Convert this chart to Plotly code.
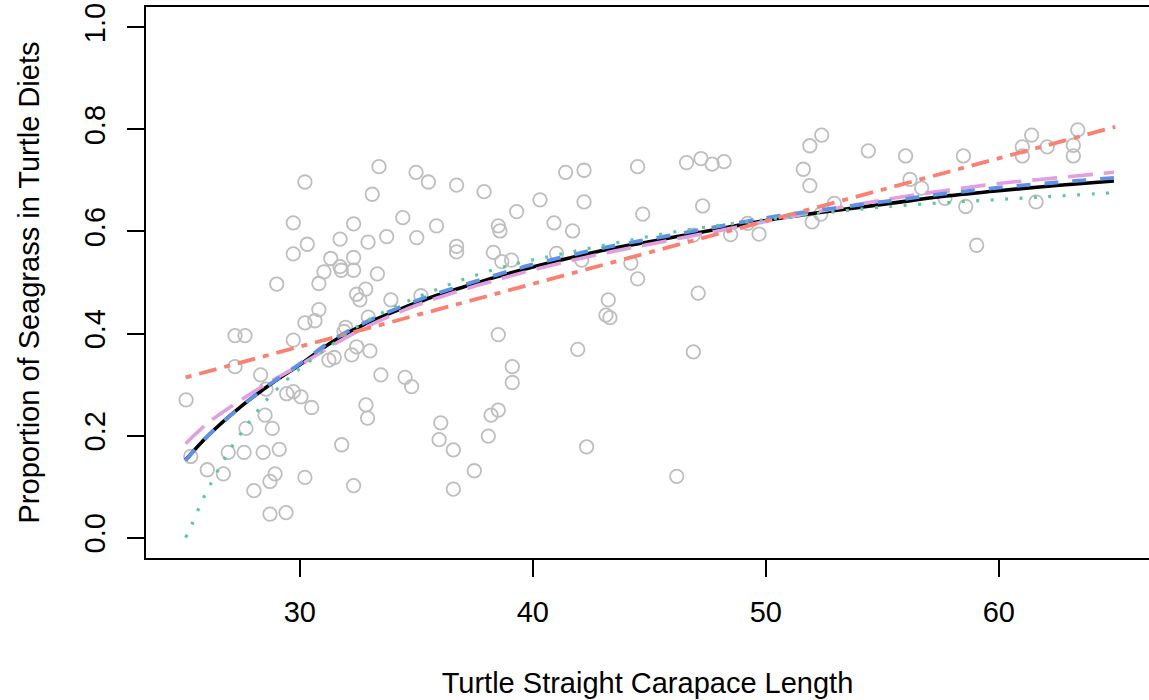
import plotly.graph_objects as go

# ---- data ----
scl = [30.22, 33.40, 34.99, 35.52, 33.11, 29.72, 32.31, 34.42, 35.87, 30.32, 29.72, 31.73,
       32.93, 33.73, 35.02, 31.33, 31.73, 31.78, 32.31, 32.31, 31.04, 33.33,
       29.01, 30.82, 32.44, 32.83, 32.58, 33.91, 35.20, 30.82, 30.22, 30.65, 32.94, 31.97,
       31.90, 29.72, 27.22, 27.65, 32.44, 32.23, 33.01, 31.25, 31.48, 27.22, 28.32, 33.48,
       34.52, 34.80, 28.55, 29.44, 29.72, 30.05, 30.51, 25.12, 32.84, 32.91, 28.51, 28.82,
       27.69, 36.05, 35.98, 31.80, 29.12, 28.43, 27.61, 26.93, 25.32, 26.03, 26.72, 28.94,
       28.72, 30.22, 28.03, 32.31, 28.72, 29.41,
       36.73, 37.91, 36.73, 36.73, 38.52, 38.59, 39.31, 38.31, 38.67, 39.09, 40.31, 40.91,
       41.71, 41.41, 42.20, 42.20, 41.02, 42.10, 44.50, 44.72, 44.21, 44.50, 46.60, 47.22,
       47.70, 47.29, 46.89, 47.10, 46.89, 46.18, 43.24, 43.14, 43.31, 41.93, 42.31, 38.52,
       39.12, 39.12, 38.52, 38.21, 38.09, 36.59, 37.49, 36.59,
       48.21, 48.49, 49.22, 49.71, 51.89, 52.40, 51.61, 51.89, 51.99, 52.36, 52.94, 54.40,
       56.00, 56.19, 56.69, 58.48, 57.69, 58.58, 59.05,
       61.41, 61.01, 61.01, 62.08, 61.60, 63.39, 63.20, 63.20]
seagrass = [0.697, 0.727, 0.716, 0.697, 0.673, 0.617, 0.615, 0.627, 0.611, 0.575, 0.556, 0.585,
            0.579, 0.590, 0.588, 0.547, 0.531, 0.524, 0.549, 0.524, 0.521, 0.517,
            0.497, 0.498, 0.477, 0.487, 0.466, 0.466, 0.474, 0.447, 0.421, 0.425, 0.432, 0.412,
            0.404, 0.387, 0.396, 0.396, 0.374, 0.358, 0.366, 0.348, 0.353, 0.335, 0.319, 0.319,
            0.314, 0.296, 0.291, 0.282, 0.286, 0.276, 0.255, 0.270, 0.260, 0.234, 0.240, 0.214,
            0.214, 0.225, 0.192, 0.182, 0.173, 0.167, 0.167, 0.167, 0.159, 0.133, 0.125, 0.125,
            0.110, 0.118, 0.092, 0.102, 0.046, 0.049,
            0.691, 0.678, 0.571, 0.560, 0.611, 0.601, 0.639, 0.559, 0.541, 0.544, 0.662, 0.617,
            0.601, 0.716, 0.720, 0.658, 0.557, 0.544, 0.727, 0.634, 0.538, 0.507, 0.735, 0.743,
            0.732, 0.650, 0.593, 0.479, 0.364, 0.120, 0.466, 0.436, 0.431, 0.369, 0.178, 0.398,
            0.335, 0.304, 0.250, 0.240, 0.199, 0.172, 0.131, 0.095,
            0.737, 0.594, 0.616, 0.595, 0.768, 0.789, 0.722, 0.690, 0.619, 0.634, 0.655, 0.758,
            0.748, 0.702, 0.685, 0.748, 0.665, 0.649, 0.573,
            0.789, 0.766, 0.748, 0.766, 0.658, 0.799, 0.769, 0.748]

curve_x = [25.1, 26.07, 27.51, 28.79, 30.08, 31.37, 32.73, 34.16, 35.59, 37.02, 38.45, 39.88,
           41.67, 43.45, 45.24, 47.03, 48.82, 50.61, 52.96, 55.32, 57.66, 60.0, 62.47, 64.94]
black_y = [0.152, 0.200, 0.258, 0.302, 0.341, 0.383, 0.417, 0.445, 0.470, 0.491, 0.511, 0.529,
           0.549, 0.567, 0.582, 0.597, 0.612, 0.626, 0.641, 0.655, 0.669, 0.680, 0.690, 0.699]
blue_y = [0.151, 0.200, 0.258, 0.303, 0.343, 0.386, 0.420, 0.449, 0.474, 0.495, 0.515, 0.534,
          0.554, 0.572, 0.587, 0.602, 0.617, 0.631, 0.646, 0.660, 0.674, 0.686, 0.696, 0.705]
pink_y = [0.184, 0.225, 0.271, 0.307, 0.340, 0.376, 0.410, 0.440, 0.465, 0.486, 0.505, 0.523,
          0.543, 0.561, 0.577, 0.593, 0.609, 0.625, 0.645, 0.664, 0.680, 0.694, 0.705, 0.716]

green_x = [25.1, 25.36, 25.86, 26.43, 27.08, 27.79, 28.58, 29.44, 29.94, 31.2, 32.44, 33.51,
           34.66, 35.80, 36.95, 38.16, 39.38, 40.5, 42.74, 46.18, 49.18, 51.03, 55.32, 59.76,
           62.0, 64.94]
green_y = [0.0, 0.025, 0.077, 0.127, 0.178, 0.224, 0.270, 0.309, 0.329, 0.372, 0.413, 0.440,
           0.464, 0.485, 0.505, 0.523, 0.538, 0.549, 0.570, 0.600, 0.619, 0.629, 0.649, 0.662,
           0.668, 0.676]

red_x = [25.1, 65.0]
red_y = [0.314, 0.805]

xticks = [30, 40, 50, 60]
yticks = [0.0, 0.2, 0.4, 0.6, 0.8, 1.0]
yticktext = ["0.0", "0.2", "0.4", "0.6", "0.8", "1.0"]

FONT = "Liberation Sans, Arial, Helvetica, sans-serif"
FS = 29

fig = go.Figure()
fig.add_trace(go.Scatter(x=scl, y=seagrass, mode="markers",
                         marker=dict(symbol="circle-open", size=13.5, color="#BEBEBE",
                                     line=dict(width=1.8, color="#BEBEBE")),
                         showlegend=False, hoverinfo="skip"))
fig.add_trace(go.Scatter(x=curve_x, y=black_y, mode="lines", line_shape="spline",
                         line=dict(color="black", width=3.6), showlegend=False))
fig.add_trace(go.Scatter(x=curve_x, y=pink_y, mode="lines", line_shape="spline",
                         line=dict(color="#E0A0E0", width=3.6, dash="25px,11px"),
                         showlegend=False))
fig.add_trace(go.Scatter(x=curve_x, y=blue_y, mode="lines", line_shape="spline",
                         line=dict(color="#5F91E8", width=3.8, dash="14px,14px"),
                         showlegend=False))
fig.add_trace(go.Scatter(x=red_x, y=red_y, mode="lines",
                         line=dict(color="#FA8072", width=3.8, dash="6px,8px,18px,8px"),
                         showlegend=False))
fig.add_trace(go.Scatter(x=green_x, y=green_y, mode="lines", line_shape="spline",
                         line=dict(color="#5CC8A0", width=3.2, dash="3px,11.5px"),
                         showlegend=False))

fig.update_layout(
    width=1149, height=700,
    margin=dict(l=146, r=0, t=7, b=142),
    paper_bgcolor="white", plot_bgcolor="white",
    font=dict(family=FONT, size=FS, color="black"),
    showlegend=False,
)
fig.update_xaxes(
    range=[23.4, 66.447], tickvals=xticks, ticks="outside", ticklen=17, tickwidth=2,
    tickcolor="black", showline=True, linewidth=2, linecolor="black", mirror=True,
    showgrid=False, zeroline=False, ticklabelstandoff=10,
    tickfont=dict(family=FONT, size=FS, color="black"),
    title=dict(text="Turtle Straight Carapace Length", standoff=46,
               font=dict(family=FONT, size=FS, color="black")),
)
fig.update_yaxes(
    range=[-0.04, 1.04], tickvals=yticks, ticktext=yticktext, tickangle=-90,
    ticks="outside", ticklen=17, tickwidth=2, tickcolor="black",
    showline=True, linewidth=2, linecolor="black", mirror=False,
    showgrid=False, zeroline=False, ticklabelstandoff=10,
    tickfont=dict(family=FONT, size=FS, color="black"),
    title=dict(text="Proportion of Seagrass in Turtle Diets", standoff=31,
               font=dict(family=FONT, size=FS, color="black")),
)

fig.write_html("out.html")
